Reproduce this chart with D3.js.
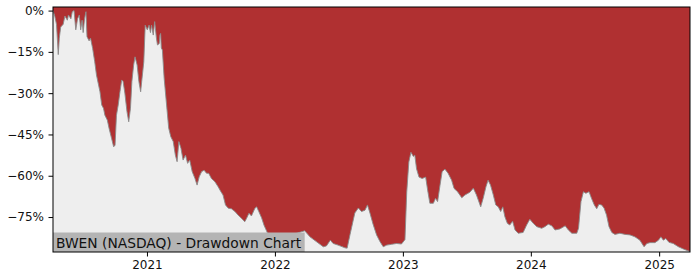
<!DOCTYPE html>
<html>
<head>
<meta charset="utf-8">
<script src="https://cdn.jsdelivr.net/npm/d3@7"></script>
<style>
  html, body { margin: 0; padding: 0; background: #ffffff; }
  svg { display: block; }
  text { font-family: "DejaVu Sans", sans-serif; }
</style>
</head>
<body>
<svg id="chart" width="700" height="280"></svg>
<script>
// ---- data ----
const title = "BWEN (NASDAQ) - Drawdown Chart";
const dates = [
  "2020-04-08","2020-04-13","2020-04-18","2020-04-23","2020-04-26","2020-04-30","2020-05-07","2020-05-12",
  "2020-05-19","2020-05-22","2020-05-29","2020-06-02","2020-06-07","2020-06-12","2020-06-17","2020-06-22",
  "2020-06-26","2020-06-30","2020-07-03","2020-07-07","2020-07-11","2020-07-14","2020-07-20","2020-07-24",
  "2020-07-30","2020-08-05","2020-08-10","2020-08-20","2020-08-25","2020-08-30","2020-09-03","2020-09-10",
  "2020-09-15","2020-09-22","2020-09-28","2020-10-02","2020-10-06","2020-10-11","2020-10-16","2020-10-21",
  "2020-10-25","2020-10-30","2020-11-05","2020-11-10","2020-11-15","2020-11-19","2020-11-24","2020-11-28",
  "2020-12-04","2020-12-09","2020-12-14","2020-12-17","2020-12-23","2020-12-27",
  "2021-01-02","2021-01-07","2021-01-11","2021-01-14","2021-01-19","2021-01-23","2021-01-28","2021-01-31",
  "2021-02-05","2021-02-07","2021-02-09","2021-02-11","2021-02-14","2021-02-19","2021-02-26","2021-03-04",
  "2021-03-10","2021-03-17","2021-03-23","2021-03-28","2021-04-02","2021-04-08","2021-04-14","2021-04-21",
  "2021-04-27","2021-05-03","2021-05-10","2021-05-18","2021-05-24","2021-05-30","2021-06-06","2021-06-13",
  "2021-06-20","2021-06-26","2021-07-04","2021-07-14","2021-07-23","2021-07-31","2021-08-06","2021-08-13",
  "2021-08-21","2021-08-30","2021-09-09","2021-09-18","2021-09-28","2021-10-07","2021-10-12","2021-10-19",
  "2021-10-26","2021-11-05","2021-11-10","2021-11-16","2021-11-24","2021-12-01","2021-12-08","2021-12-13",
  "2022-01-06","2022-02-03","2022-03-04","2022-03-27","2022-04-11","2022-04-30","2022-05-19","2022-05-28",
  "2022-06-08","2022-06-16","2022-06-30","2022-07-20","2022-07-26","2022-08-03","2022-08-17","2022-08-27",
  "2022-09-05","2022-09-15","2022-09-22","2022-09-29","2022-10-08","2022-10-18","2022-10-28","2022-11-06",
  "2022-11-16","2022-11-30","2022-12-14","2022-12-28",
  "2023-01-07","2023-01-12","2023-01-18","2023-01-24","2023-01-31","2023-02-04","2023-02-09","2023-02-16",
  "2023-02-25","2023-03-07","2023-03-13","2023-03-19","2023-03-29","2023-04-04","2023-04-10","2023-04-17",
  "2023-04-23","2023-05-01","2023-05-10","2023-05-20","2023-05-27","2023-06-06","2023-06-18","2023-06-27",
  "2023-07-11","2023-07-21","2023-07-30","2023-08-11","2023-08-18","2023-08-26","2023-09-01","2023-09-08",
  "2023-09-16","2023-09-23","2023-09-30","2023-10-07","2023-10-13","2023-10-19","2023-10-26","2023-11-02",
  "2023-11-10","2023-11-17","2023-11-26","2023-12-10","2023-12-20","2023-12-29",
  "2024-01-08","2024-01-18","2024-02-01","2024-02-10","2024-02-20","2024-03-01","2024-03-10","2024-03-24",
  "2024-04-08","2024-04-17","2024-04-27","2024-05-11","2024-05-16","2024-05-23","2024-05-30","2024-06-06",
  "2024-06-15","2024-06-22","2024-06-30","2024-07-07","2024-07-13","2024-07-21","2024-07-28","2024-08-04",
  "2024-08-11","2024-08-19","2024-08-28","2024-09-11","2024-09-26","2024-10-10","2024-10-24","2024-11-07",
  "2024-11-19","2024-11-27","2024-12-06","2024-12-20","2024-12-30",
  "2025-01-06","2025-01-13","2025-01-20","2025-01-29","2025-02-10","2025-02-25","2025-03-11","2025-03-25",
  "2025-03-29"
];
const drawdown = [
  0, -2, -5, -16, -10, -6, -5, -2,
  -3.5, -1.6, -3, -0.4, 0, -7, -3, -1.6,
  -7, -3.5, -8, -3, -0.4, -9.5, -11, -10,
  -13.7, -18.6, -23.4, -29.5, -34.3, -35.5, -38, -39.8,
  -42.8, -46.4, -49.5, -48.9, -38, -34.3, -29.5, -25.2,
  -25.8, -30, -36.7, -40.4, -35.5, -25.8, -19.8, -16.8,
  -19.8, -25.8, -29.5, -25.8, -18.6, -5.3,
  -7, -5.3, -8, -5.3, -8.9, -4, -10, -12.5,
  -12, -8.9, -8.3, -13.6, -14.3, -24.5, -34.3, -42.7,
  -45.8, -47.6, -52.5, -54.9, -47.6, -50, -54.3, -52.5,
  -55.5, -54.3, -58.5, -61, -63.4, -60.4, -58.5, -58,
  -59.1, -59.1, -61, -62.2, -64, -65.8, -67, -70.6,
  -71.8, -72, -73, -74.3, -75.5, -76.7, -75.5, -73.6,
  -74.6, -71.8, -71.3, -73, -75.3, -78, -80, -81.5,
  -81.5, -81.5, -80.9, -80, -82.2, -84, -85.8, -85.5,
  -83.4, -84.6, -85.2, -86.2, -86.3, -81.5, -73.5, -71.7,
  -73, -72.5, -70.6, -73.5, -77.6, -81.5, -84, -85.8,
  -85.2, -84.9, -84.6, -84.8,
  -83.2, -66, -55, -51.5, -53, -52.5, -57.5, -60.5,
  -61, -60.5, -65.5, -70, -70, -68.2, -69.4, -63.4,
  -58.5, -57.6, -59.1, -61.6, -64.6, -65.8, -68, -67,
  -66, -64.5, -67, -71.3, -68.2, -64, -61.6, -63.4,
  -67, -70.6, -71.3, -73, -71.3, -74.9, -77.3, -77.9,
  -76.5, -79.7, -80.9, -80.6, -77.9, -75.8,
  -77.3, -78.5, -79.1, -78.5, -77.6, -78.2, -79.7, -79.3,
  -78.2, -79.7, -80.9, -80.9, -79.1, -69.4, -65.8, -66.4,
  -65.8, -68.2, -70.6, -72, -70.4, -70.6, -71.8, -74.3,
  -78.5, -80.6, -81.3, -80.9, -81.3, -81.5, -82.2, -83.4,
  -85.8, -84.6, -84.3, -84.3, -83.4,
  -82.2, -83.4, -82.8, -84.2, -84.6, -85.8, -86.6, -87.3,
  -87.4
];
const yTicks = [0, -15, -30, -45, -60, -75];
const xTickYears = ["2021", "2022", "2023", "2024", "2025"];
const xDomain = ["2020-04-08", "2025-03-30"];
const yDomain = [-87.7, 1.3];

// ---- layout ----
const margin = { left: 53, right: 10, top: 7, bottom: 28 };
const W = 700, H = 280;
const pw = W - margin.left - margin.right;
const ph = H - margin.top - margin.bottom;

const parse = d3.utcParse("%Y-%m-%d");
const data = dates.map((d, i) => ({ date: parse(d), dd: drawdown[i] }));

const x = d3.scaleUtc().domain(xDomain.map(parse)).range([0, pw]);
const y = d3.scaleLinear().domain(yDomain).range([ph, 0]);

const svg = d3.select("#chart");
const g = svg.append("g").attr("transform", `translate(${margin.left},${margin.top})`);

svg.append("defs").append("clipPath").attr("id", "clip")
  .append("rect").attr("width", pw).attr("height", ph);

const plot = g.append("g").attr("clip-path", "url(#clip)");
plot.append("rect").attr("width", pw).attr("height", ph).attr("fill", "#b03031");

const area = d3.area().x(d => x(d.date)).y0(ph).y1(d => y(d.dd));
const line = d3.line().x(d => x(d.date)).y(d => y(d.dd));
plot.append("path").datum(data).attr("d", area).attr("fill", "#eeeeee");
plot.append("path").datum(data).attr("d", line)
  .attr("fill", "none").attr("stroke", "#8a8a8a").attr("stroke-width", 0.9);

// label box
const label = g.append("g");
const lt = label.append("text").attr("x", 3).attr("y", ph - 4.5)
  .attr("font-size", 13.8).attr("fill", "#111").text(title);
const bb = lt.node().getBBox();
label.insert("rect", "text").attr("x", 0).attr("y", ph - 19.5)
  .attr("width", bb.width + 6).attr("height", 19.5).attr("fill", "#b4b4b4");

// axes
const fmtY = v => (v < 0 ? "\u2212" + Math.abs(v) : String(v)) + "%";
const yAxis = d3.axisLeft(y).tickValues(yTicks).tickFormat(fmtY).tickSize(4.5).tickPadding(4.5);
const gy = g.append("g").call(yAxis);
gy.select(".domain").remove();
gy.selectAll("text").attr("font-size", 12).attr("fill", "#111").attr("font-family", "DejaVu Sans");
gy.selectAll("line").attr("stroke", "#000");

const xAxis = d3.axisBottom(x)
  .tickValues(xTickYears.map(s => parse(s + "-01-01")))
  .tickFormat(d3.utcFormat("%Y")).tickSize(4.5).tickPadding(3.5);
const gx = g.append("g").attr("transform", `translate(0,${ph})`).call(xAxis);
gx.select(".domain").remove();
gx.selectAll("text").attr("font-size", 12).attr("fill", "#111").attr("font-family", "DejaVu Sans");
gx.selectAll("line").attr("stroke", "#000");

// frame
g.append("rect").attr("x", 0).attr("y", 0).attr("width", pw).attr("height", ph)
  .attr("fill", "none").attr("stroke", "#000").attr("stroke-width", 1);
</script>
</body>
</html>
